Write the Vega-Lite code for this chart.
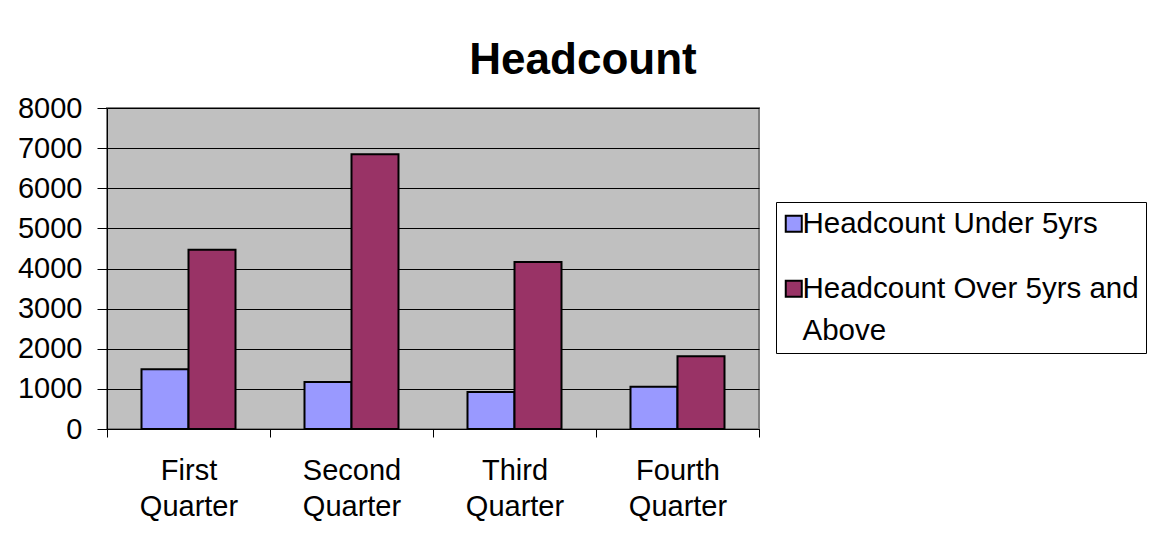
{
  "$schema": "https://vega.github.io/schema/vega-lite/v6.json",
  "autosize": {"type": "none"},
  "width": 652,
  "height": 321,
  "padding": {"left": 107, "top": 108, "right": 400, "bottom": 110},
  "background": "white",
  "title": {
    "text": "Headcount",
    "font": "Liberation Sans",
    "fontSize": 44,
    "fontWeight": "bold",
    "color": "black",
    "anchor": "middle",
    "frame": "group",
    "baseline": "alphabetic",
    "dx": 150,
    "dy": 43,
    "offset": 19
  },
  "data": {
    "values": [
      {"quarter": "First Quarter", "series": "Headcount Under 5yrs", "value": 1490},
      {"quarter": "First Quarter", "series": "Headcount Over 5yrs and Above", "value": 4470},
      {"quarter": "Second Quarter", "series": "Headcount Under 5yrs", "value": 1170},
      {"quarter": "Second Quarter", "series": "Headcount Over 5yrs and Above", "value": 6850},
      {"quarter": "Third Quarter", "series": "Headcount Under 5yrs", "value": 925},
      {"quarter": "Third Quarter", "series": "Headcount Over 5yrs and Above", "value": 4160},
      {"quarter": "Fourth Quarter", "series": "Headcount Under 5yrs", "value": 1050},
      {"quarter": "Fourth Quarter", "series": "Headcount Over 5yrs and Above", "value": 1810}
    ]
  },
  "mark": {"type": "bar", "stroke": "black", "strokeWidth": 2},
  "encoding": {
    "x": {
      "field": "quarter",
      "type": "nominal",
      "sort": ["First Quarter", "Second Quarter", "Third Quarter", "Fourth Quarter"],
      "scale": {"paddingInner": 0, "paddingOuter": 0},
      "axis": {
        "title": null,
        "labelAngle": 0,
        "labelExpr": "split(datum.label, ' ')",
        "tickBand": "extent",
        "tickSize": 8,
        "tickColor": "black",
        "domainColor": "black",
        "labelPadding": 19,
        "labelLineHeight": 36,
        "labelBaseline": "top",
        "grid": false
      }
    },
    "xOffset": {
      "field": "series",
      "type": "nominal",
      "sort": ["Headcount Under 5yrs", "Headcount Over 5yrs and Above"],
      "scale": {"paddingInner": 0, "paddingOuter": 0.734}
    },
    "y": {
      "field": "value",
      "type": "quantitative",
      "scale": {"domain": [0, 8000], "nice": false},
      "axis": {
        "title": null,
        "format": "d",
        "values": [0, 1000, 2000, 3000, 4000, 5000, 6000, 7000, 8000],
        "tickSize": 10,
        "tickColor": "black",
        "domainColor": "black",
        "labelPadding": 15,
        "grid": true,
        "gridColor": "black",
        "gridOpacity": 1,
        "gridWidth": 1
      }
    },
    "color": {
      "field": "series",
      "type": "nominal",
      "sort": ["Headcount Under 5yrs", "Headcount Over 5yrs and Above"],
      "scale": {"domain": ["Headcount Under 5yrs", "Headcount Over 5yrs and Above"], "range": ["#9999FF", "#993366"]},
      "legend": {
        "title": null,
        "orient": "none",
        "legendX": 669,
        "legendY": 94,
        "symbolType": "square",
        "symbolSize": 256,
        "symbolStrokeColor": "black",
        "symbolStrokeWidth": 2,
        "symbolOpacity": 1,
        "symbolOffset": -4,
        "labelFontSize": 29.5,
        "labelOffset": -6,
        "labelLimit": 500,
        "labelExpr": "datum.label == 'Headcount Over 5yrs and Above' ? ['Headcount Over 5yrs and', 'Above'] : datum.label",
        "fillColor": "white",
        "strokeColor": "black",
        "padding": 7,
        "rowPadding": 34
      }
    }
  },
  "config": {
    "font": "Liberation Sans",
    "view": {"fill": "#C0C0C0", "stroke": "#808080", "strokeWidth": 2},
    "axis": {
      "labelFont": "Liberation Sans",
      "labelFontSize": 29,
      "labelColor": "black",
      "domainWidth": 1,
      "tickWidth": 1
    },
    "legend": {"labelFont": "Liberation Sans", "labelColor": "black"},
    "style": {"guide-label": {"lineHeight": 42}}
  }
}
